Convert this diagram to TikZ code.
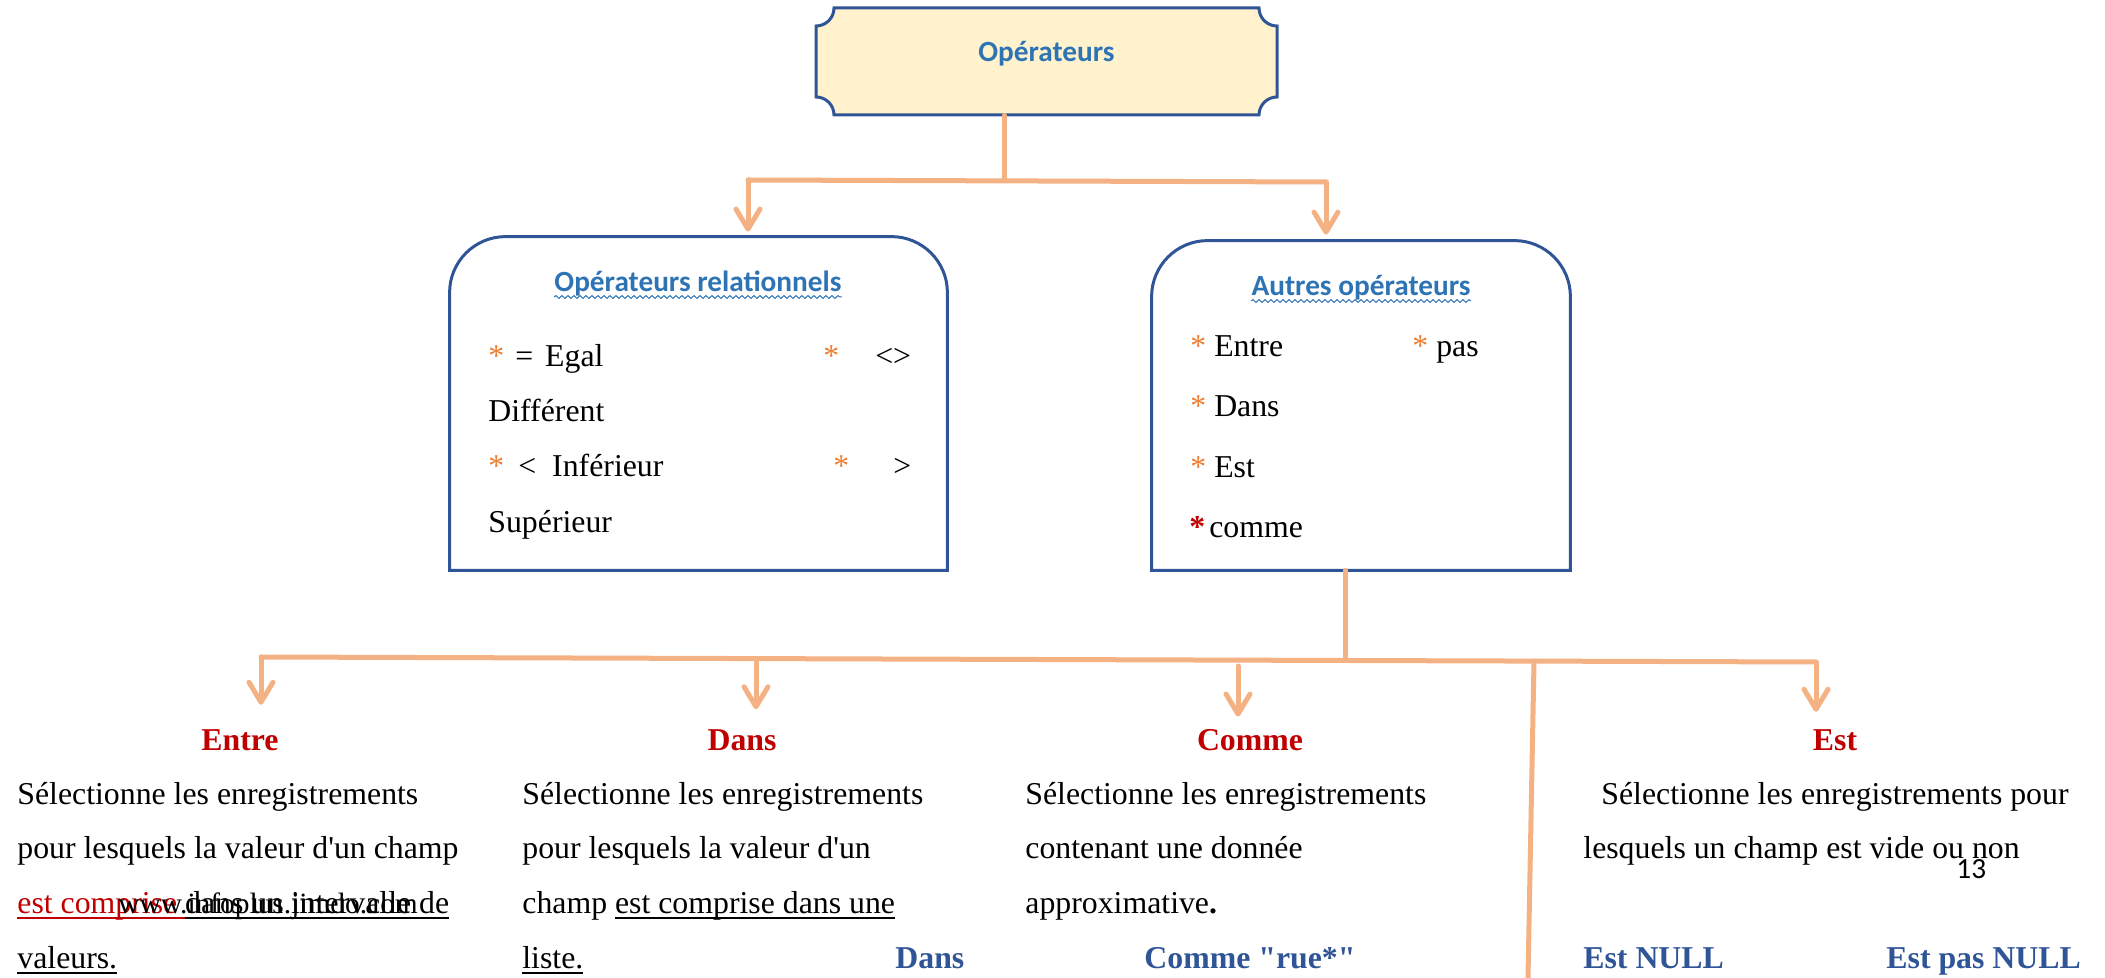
\documentclass[tikz,border=0pt]{standalone}
\usepackage{fontspec}
\setmainfont{Liberation Serif}
\newfontfamily\calib{Carlito}
\usetikzlibrary{arrows.meta,decorations.pathmorphing,positioning}

\definecolor{boxblue}{HTML}{2F5597}
\definecolor{titleblue}{HTML}{2E74B5}
\definecolor{plate}{HTML}{FFF2CC}
\definecolor{linkorange}{HTML}{F4B183}
\definecolor{starorange}{HTML}{ED7D31}
\definecolor{darkred}{HTML}{C00000}

\newcommand{\st}{{\color{starorange}*}}
% underline at a fixed depth, in the current colour
\newcommand{\ulx}[1]{\setbox0\hbox{#1}\rlap{\rule[-3pt]{\wd0}{0.9pt}}\box0}

\tikzset{
  bodytext/.style={font=\fontsize{15.9pt}{19pt}\selectfont, inner sep=0pt, anchor=base west},
  boxtitle/.style={font=\calib\bfseries\fontsize{14.65pt}{17pt}\selectfont, text=titleblue, inner sep=0pt},
  optitle/.style={font=\bfseries\fontsize{15.9pt}{19pt}\selectfont, text=darkred, inner sep=0pt, anchor=base},
  exlabel/.style={font=\bfseries\fontsize{15.9pt}{19pt}\selectfont, text=boxblue, inner sep=0pt},
  boxline/.style={draw=boxblue, line width=1.5pt},
  link/.style={draw=linkorange, line width=2.5pt, line cap=round, line join=round},
  linkarrow/.style={link, -{Straight Barb[length=10pt,width=12pt,round]}},
  wavy/.style={draw=titleblue, line width=0.5pt, decorate,
    decoration={snake, amplitude=0.7pt, segment length=3pt}},
}

\begin{document}
\begin{tikzpicture}[x=0.5pt, y=-0.5pt]
    \useasboundingbox (0,0) rectangle (2105,978);

    % top plate with concave corners
    \path[boxline, fill=plate] (834,8) -- (1259,8) arc[start angle=180, end angle=90, radius=18]
        -- (1277,97) arc[start angle=270, end angle=180, radius=18]
        -- (834,115) arc[start angle=0, end angle=-90, radius=18]
        -- (816,26) arc[start angle=90, end angle=0, radius=18] -- cycle;
    \node[boxtitle, minimum width=230.5pt, minimum height=53.5pt, text height=7pt, text depth=7pt] (ops) at (1046.5,61.5) {Opérateurs};

    % the two boxes (top corners rounded)
    \node[minimum width=248.5pt, minimum height=166.5pt, inner sep=0pt] (rel) at (698.5,403.5) {};
    \draw[boxline] (rel.south west) [rounded corners=28pt] -- (rel.north west) -- (rel.north east) [sharp corners] -- (rel.south east) -- cycle;
    \node[minimum width=209pt, minimum height=164.5pt, inner sep=0pt] (oth) at (1361,405.5) {};
    \draw[boxline] (oth.south west) [rounded corners=28pt] -- (oth.north west) -- (oth.north east) [sharp corners] -- (oth.south east) -- cycle;

    % box titles
    \node[boxtitle, anchor=base] (relT) at (698,292) {Opérateurs relationnels};
    \draw[wavy] ([yshift=-2.5pt]relT.base west) -- ([yshift=-2.5pt]relT.base east);
    \node[boxtitle, anchor=base] (othT) at (1361,296) {Autres opérateurs};
    \draw[wavy] ([yshift=-2.5pt]othT.base west) -- ([yshift=-2.5pt]othT.base east);

    % relational operators
    \node[bodytext] (relA) at (488,367) {\st\hspace{5.5pt}=\hspace{6pt}Egal};
    \node[bodytext] (relB) at (823,367) {\st\hspace{18pt}<>};
    \node[bodytext] (relC) at (488,422) {Différent};
    \node[bodytext] (relD) at (488,477) {\st\hspace{7pt}<\hspace{8pt}Inférieur};
    \node[bodytext] (relE) at (833,477) {\st\hspace{22pt}>};
    \node[bodytext] (relF) at (488,532) {Supérieur};

    % other operators
    \node[bodytext] (othA) at (1190,357) {\st\ Entre};
    \node[bodytext] (othB) at (1412,357) {\st\ pas};
    \node[bodytext] (othC) at (1190,417) {\st\ Dans};
    \node[bodytext] (othD) at (1190,478) {\st\ Est};
    \node[bodytext] (othE) at (1189,538) {{\bfseries\color{darkred}*}\hspace{2pt}comme};

    % operator titles
    \node[optitle] (entT) at (240,750) {Entre};
    \node[optitle] (dansT) at (742,750) {Dans};
    \node[optitle] (commeT) at (1250,750) {Comme};
    \node[optitle] (estT) at (1835,750) {Est};

    % Entre
    \node[bodytext] (ent1) at (17,804) {Sélectionne les enregistrements};
    \node[bodytext] (ent2) at (17,858) {pour lesquels la valeur d\textquotesingle un champ};
    \node[bodytext] (ent3) at (17,913) {{\color{darkred}\ulx{est comprise\ }}\ulx{dans un intervalle de}};
    \node[bodytext] (ent4) at (17,968) {\ulx{valeurs.}};
    \node[bodytext, font=\fontsize{14.7pt}{17pt}\selectfont] (wmark) at (118,913) {www.infoplus.jimdo.com};

    % Dans
    \node[bodytext] (dans1) at (522,804) {Sélectionne les enregistrements};
    \node[bodytext] (dans2) at (522,858) {pour lesquels la valeur d\textquotesingle un};
    \node[bodytext] (dans3) at (522,913) {champ \ulx{est comprise dans une}};
    \node[bodytext] (dans4) at (522,968) {\ulx{liste.}};
    \node[exlabel, anchor=base west] (dansEx) at (895,968) {Dans};

    % Comme
    \node[bodytext] (comme1) at (1025,804) {Sélectionne les enregistrements};
    \node[bodytext] (comme2) at (1025,858) {contenant une donnée};
    \node[bodytext] (comme3) at (1025,913) {approximative\textbf{.}};
    \node[exlabel, anchor=base] (commeEx) at (1250,968) {Comme \textquotedbl rue*\textquotedbl};

    % Est
    \node[bodytext] (est1) at (1601,804) {Sélectionne les enregistrements pour};
    \node[bodytext] (est2) at (1583,858) {lesquels un champ est vide ou non};
    \node[bodytext, font=\calib\fontsize{14.65pt}{17pt}\selectfont] (pageno) at (1956,878) {13};
    \node[exlabel, anchor=base west] (estEx1) at (1583,968) {Est NULL};
    \node[exlabel, anchor=base west] (estEx2) at (1886,968) {Est pas NULL};

    % upper connectors
    \coordinate (tj) at (1004,180);
    \coordinate (tl) at (748,180);
    \coordinate (tr) at (1326,182);
    \draw[link] (ops.south -| tj) -- (tj);
    \draw[link] (tl) -- (tr);
    \draw[linkarrow, shorten >=2.5pt] (tl) -- (tl |- rel.north);
    \draw[linkarrow, shorten >=3pt] (tr) -- (tr |- oth.north);

    % lower connectors
    \coordinate (bj) at (1345,659.5);
    \coordinate (b1) at (261,657);
    \coordinate (b2) at (756,658.6);
    \coordinate (b3) at (1238,660);
    \coordinate (b4) at (1534,661);
    \coordinate (b5) at (1816,662);
    \coordinate (b4end) at (1528,978);
    \draw[link] (oth.south -| bj) -- (bj);
    \draw[link] (b1) -- (b5);
    \draw[linkarrow, shorten >=12pt] (b1) -- (b1 |- entT.north);
    \draw[linkarrow, shorten >=9.75pt] (b2) -- (b2 |- dansT.north);
    \draw[linkarrow, shorten <=3pt, shorten >=6pt] (b3) -- (b3 |- commeT.north);
    \draw[link] (b4) -- (b4end);
    \draw[linkarrow, shorten >=8.5pt] (b5) -- (b5 |- estT.north);
\end{tikzpicture}
\end{document}
